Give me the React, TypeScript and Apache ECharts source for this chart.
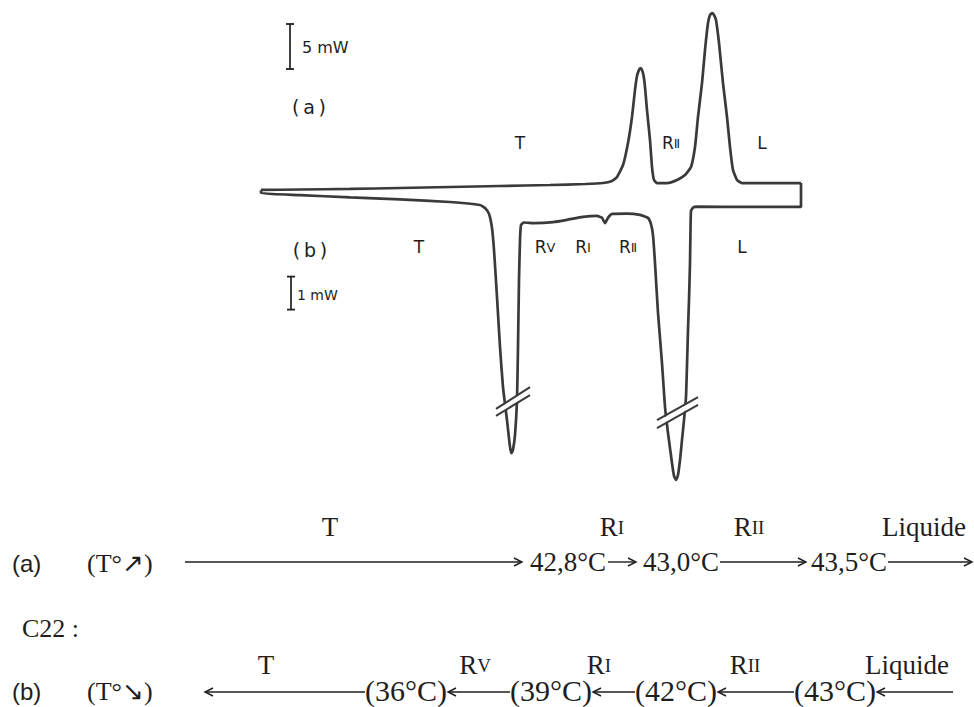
import React, { useEffect, useRef } from "react";
import * as echarts from "echarts";

// ---- Thermogram data (x: scan position, arbitrary units; y: heat flow, mW) ----
// (a) heating curve, read on the 5 mW scale
const curveA: [number, number][] = [
  [0, -0.44], [39, -0.39], [89, -0.33], [139, -0.22], [189, -0.11], [239, 0], [289, 0.11],
  [324, 0.22], [342, 0.33], [351, 0.56], [356, 1.0], [362, 2.33], [367, 4.78], [371, 7.67],
  [374, 10.67], [376, 12.22], [378, 12.9], [379.5, 13.1], [381, 12.9], [382.5, 12.3], [384, 11.0],
  [386, 8.44], [389, 5.11], [391, 2.11], [393, 0.67], [396, 0.33], [406, 0.33], [416, 0.67],
  [424, 1.22], [430, 2.11], [434, 4.33], [437, 7.67], [441, 11.44], [444, 15.11], [447, 18.11],
  [449, 19.0], [451, 19.2], [453, 19.0], [455, 18.44], [458, 15.89], [462, 11.44], [466, 7.67],
  [469, 4.33], [472, 1.78], [476, 0.67], [481, 0.33], [540, 0.33],
];
// (b) cooling curve, read on the 1 mW scale (drawn right to left)
const curveB: [number, number][] = [
  [540, 0.64], [540, -0.09], [489, -0.09], [436, -0.08], [432, -0.11], [430, -0.21], [429.5, -0.79],
  [429, -1.79], [428, -2.91], [427, -3.82], [426, -4.88], [425, -5.85], [423, -6.55], [421, -7.15],
  [419, -7.76], [417, -8.21], [415, -8.36], [413, -8.24], [411, -7.85], [407, -6.94], [404, -6.15],
  [401, -4.82], [397, -3.3], [394, -1.79], [392, -0.94], [390, -0.61], [387, -0.42], [379, -0.33],
  [366, -0.29], [351, -0.3], [347, -0.42], [344, -0.58], [341, -0.42], [336, -0.36], [322, -0.39],
  [306, -0.48], [292, -0.55], [274, -0.58], [263, -0.56], [260, -0.64], [259, -1.09], [258, -2.3],
  [257, -4.33], [256, -5.94], [254, -7.0], [252, -7.45], [250.5, -7.55], [249, -7.36], [246, -6.55],
  [242, -5.55], [239, -4.33], [236, -2.82], [233, -1.39], [231, -0.73], [228, -0.3], [224, -0.12],
  [219, -0.03], [189, 0.06], [139, 0.14], [89, 0.2], [39, 0.27], [0, 0.33], [0, 0.42],
];
// scale bars
const scaleBarA: [number, number][] = [[29, 13], [29, 18]]; // 5 mW
const scaleBarB: [number, number][] = [[30, -3.2], [30, -2.2]]; // 1 mW
// axis-break marks on the two truncated exotherms (curve b scale)
const breakMarks: [number, number][][] = [
  [[235, -6.21], [269, -5.55]], [[235, -6.42], [269, -5.79]],
  [[396, -6.55], [437, -5.85]], [[396, -6.79], [437, -6.09]],
];
const breakGaps: [number, number][][] = [
  [[236, -6.32], [268, -5.67]],
  [[397, -6.67], [436, -5.97]],
];

// ---- Labels ----
const scaleLabelA = "5 mW";
const scaleLabelB = "1 mW";
const phasesCurveA = ["T", "RII", "L"];
const phasesCurveB = ["T", "RV", "RI", "RII", "L"];
const schemePhasesA = ["T", "RI", "RII", "Liquide"];
const schemeTempsA = ["42,8°C", "43,0°C", "43,5°C"];
const schemePhasesB = ["T", "RV", "RI", "RII", "Liquide"];
const schemeTempsB = ["(36°C)", "(39°C)", "(42°C)", "(43°C)"];

const SANS = '"DejaVu Sans", "Liberation Sans", sans-serif';
const SERIF = '"Liberation Serif", "Times New Roman", serif';
const ARIAL = '"Liberation Sans", Arial, sans-serif';
const INK = "#1e1e1e";
const TRACE = "#3a3a3a";

const ROMAN: Record<string, string> = { I: "Ⅰ", II: "Ⅱ", V: "Ⅴ" };

function phaseText(p: string, roman: boolean) {
  if (p.length > 1 && p[0] === "R") {
    const n = p.slice(1);
    return "{r|R}{s|" + (roman ? ROMAN[n] || n : n) + "}";
  }
  return "{r|" + p + "}";
}

function txt(x: number, y: number, text: string, family: string, size: number, align = "center", rich?: any) {
  return {
    type: "text",
    x,
    y,
    z: 20,
    style: {
      text,
      fill: INK,
      font: `${size}px ${family}`,
      fontSize: size,
      fontFamily: family,
      align,
      verticalAlign: "middle",
      textAlign: align,
      textVerticalAlign: "middle",
      rich,
    },
  };
}

function arrow(xTail: number, xTip: number, y: number) {
  const d = xTip > xTail ? -1 : 1;
  return [
    {
      type: "line",
      z: 20,
      shape: { x1: xTail, y1: y, x2: xTip, y2: y },
      style: { stroke: INK, lineWidth: 1.4 },
    },
    {
      type: "polyline",
      z: 20,
      shape: { points: [[xTip + d * 8, y - 4], [xTip, y], [xTip + d * 8, y + 4]] },
      style: { stroke: INK, lineWidth: 1.4, fill: null },
    },
  ];
}

export default function App() {
  const ref = useRef<HTMLDivElement>(null);

  useEffect(() => {
    if (!ref.current) return;
    const chart = echarts.init(ref.current, undefined, { renderer: "svg" });

    const lineStyle = { color: TRACE, width: 2.7 };
    const richSansCurve = {
      r: { fontSize: 17, fontFamily: SANS, fill: INK, color: INK },
      s: { fontSize: 13, fontFamily: SANS, fill: INK, color: INK },
    };
    const richSerif = {
      r: { fontSize: 27, fontFamily: SERIF, fill: INK, color: INK },
      s: { fontSize: 19, fontFamily: SERIF, fill: INK, color: INK },
    };

    const graphic: any[] = [];
    // thermogram annotations
    graphic.push(txt(302, 47, scaleLabelA, SANS, 16, "left"));
    graphic.push(txt(297, 295, scaleLabelB, SANS, 14, "left"));
    graphic.push(txt(309, 107, "(\u2009a\u2009)", SANS, 19));
    graphic.push(txt(310, 250, "(\u2009b\u2009)", SANS, 19));
    const posCurveA = [520, 671, 762];
    phasesCurveA.forEach((p, i) => graphic.push(txt(posCurveA[i], 143, phaseText(p, true), SANS, 17, "center", richSansCurve)));
    const posCurveB = [419, 545, 583, 628, 742];
    phasesCurveB.forEach((p, i) => graphic.push(txt(posCurveB[i], 247, phaseText(p, true), SANS, 17, "center", richSansCurve)));

    // scheme row (a)
    graphic.push(txt(12, 563, "(a)", ARIAL, 24, "left"));
    graphic.push(txt(87, 563, "(T°↗)", SERIF, 26, "left"));
    const posPhA = [330, 612, 749, 924];
    schemePhasesA.forEach((p, i) => graphic.push(txt(posPhA[i], 527, phaseText(p, false), SERIF, 27, "center", richSerif)));
    const posTA = [568, 681, 849];
    schemeTempsA.forEach((t, i) => graphic.push(txt(posTA[i], 562, t, SERIF, 27)));
    graphic.push(...arrow(185, 522, 562));
    graphic.push(...arrow(608, 636, 562));
    graphic.push(...arrow(720, 806, 562));
    graphic.push(...arrow(888, 972, 562));

    graphic.push(txt(22, 628, "C22 :", SERIF, 26, "left"));

    // scheme row (b)
    graphic.push(txt(12, 691, "(b)", ARIAL, 24, "left"));
    graphic.push(txt(87, 691, "(T°↘)", SERIF, 26, "left"));
    const posPhB = [266, 475, 599, 745, 907];
    schemePhasesB.forEach((p, i) => graphic.push(txt(posPhB[i], 665, phaseText(p, false), SERIF, 27, "center", richSerif)));
    const posTB = [406, 551, 676, 835];
    schemeTempsB.forEach((t, i) => graphic.push(txt(posTB[i], 690, t, SERIF, 30)));
    graphic.push(...arrow(365, 205, 692));
    graphic.push(...arrow(510, 448, 692));
    graphic.push(...arrow(635, 593, 692));
    graphic.push(...arrow(794, 718, 692));
    graphic.push(...arrow(953, 877, 692));

    const series: any[] = [
      {
        type: "line", name: "a", xAxisIndex: 0, yAxisIndex: 0, data: curveA,
        showSymbol: false, smooth: 0.15, clip: false, lineStyle, z: 2,
      },
      {
        type: "line", name: "b", xAxisIndex: 0, yAxisIndex: 1, data: curveB,
        showSymbol: false, smooth: 0.15, clip: false, lineStyle, z: 2,
      },
      {
        type: "line", name: "5 mW", yAxisIndex: 0, data: scaleBarA, clip: false,
        symbol: "rect", symbolSize: [8, 1.8], itemStyle: { color: INK },
        lineStyle: { color: INK, width: 1.7 }, z: 3,
      },
      {
        type: "line", name: "1 mW", yAxisIndex: 1, data: scaleBarB, clip: false,
        symbol: "rect", symbolSize: [8, 1.8], itemStyle: { color: INK },
        lineStyle: { color: INK, width: 1.7 }, z: 3,
      },
      ...breakGaps.map((g) => ({
        type: "line", yAxisIndex: 1, data: g, showSymbol: false, clip: false,
        lineStyle: { color: "#ffffff", width: 5 }, z: 4, silent: true,
      })),
      ...breakMarks.map((m) => ({
        type: "line", yAxisIndex: 1, data: m, showSymbol: false, clip: false,
        lineStyle: { color: TRACE, width: 2 }, z: 5, silent: true,
      })),
    ];

    chart.setOption({
      animation: false,
      backgroundColor: "#ffffff",
      grid: { left: 261, right: 173, top: 6, bottom: 206 },
      xAxis: { type: "value", min: 0, max: 540, show: false },
      yAxis: [
        { type: "value", min: -35, max: 20, show: false },
        { type: "value", min: -9, max: 6, show: false },
      ],
      series,
      graphic,
    });

    return () => chart.dispose();
  }, []);

  return (
    <div
      ref={ref}
      style={{ position: "absolute", left: 0, top: 0, width: 974, height: 707, background: "#fff" }}
    />
  );
}
